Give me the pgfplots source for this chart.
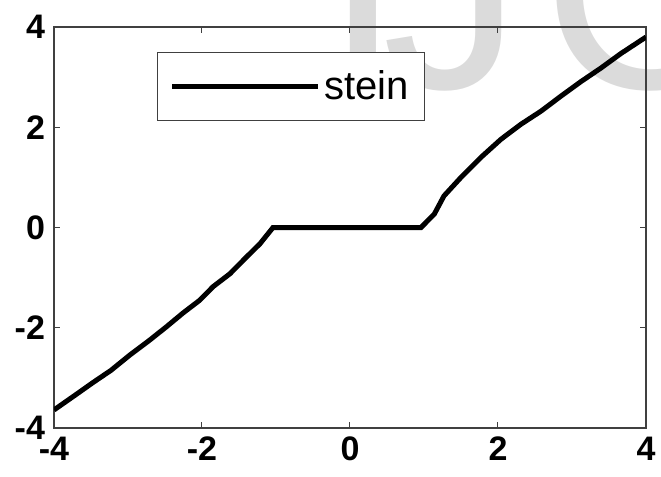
\documentclass[border=0pt]{standalone}
\usepackage{pgfplots}
\pgfplotsset{compat=1.18}
\usepackage{fontspec}
\setmainfont{Liberation Sans}
\begin{document}
\begin{tikzpicture}
% watermark
\tikzset{wm/.style={anchor=base west, inner sep=0pt, text=black!14, font=\fontsize{140}{140}\selectfont}}
\node[wm] at (162pt,194pt) {I};
\node[wm] at (191pt,194pt) {J};
\node[wm] at (271pt,194pt) {C};
\begin{axis}[
  at={(27pt,24.5pt)}, anchor=south west,
  scale only axis, width=296pt, height=200.5pt,
  xmin=-4, xmax=4, ymin=-4, ymax=4,
  xtick={-4,-2,0,2,4}, ytick={-4,-2,0,2,4},
  tick align=inside, major tick length=3pt,
  tick style={black!75, line width=0.5pt},
  axis line style={black!75, line width=0.6pt},
  /pgf/number format/assume math mode=true,
  tick label style={font=\bfseries\fontsize{17}{17}\selectfont},
  xticklabel style={yshift=-1pt},
  yticklabel style={xshift=-1pt},
  legend style={at={(0.174,0.938)}, anchor=north west, draw=black!75, line width=0.5pt, fill=white,
    font=\fontsize{20}{20}\selectfont, inner xsep=6pt, inner ysep=7pt},
  legend image code/.code={\path (0pt,0pt) -- (73pt,0pt); \draw[line width=2.5pt, black] (5.5pt,0pt) -- (69pt,0pt);},
]
\addplot[black, line width=2.5pt] coordinates {
(-4.00,-3.64) (-3.70,-3.33) (-3.48,-3.10) (-3.23,-2.85) (-2.98,-2.55) (-2.71,-2.25)
(-2.48,-1.98) (-2.26,-1.71) (-2.03,-1.45) (-1.85,-1.18) (-1.62,-0.92) (-1.40,-0.59)
(-1.22,-0.33) (-1.04,0) (0.96,0) (1.14,0.27) (1.27,0.63) (1.50,1.00) (1.77,1.40)
(2.04,1.76) (2.31,2.06) (2.58,2.32) (2.85,2.62) (3.12,2.91) (3.39,3.18) (3.66,3.47) (4.00,3.80)
};
\addlegendentry{stein}
\end{axis}
\pgfresetboundingbox
\path[use as bounding box] (0,0) rectangle (330.5pt,238.5pt);
\end{tikzpicture}
\end{document}
